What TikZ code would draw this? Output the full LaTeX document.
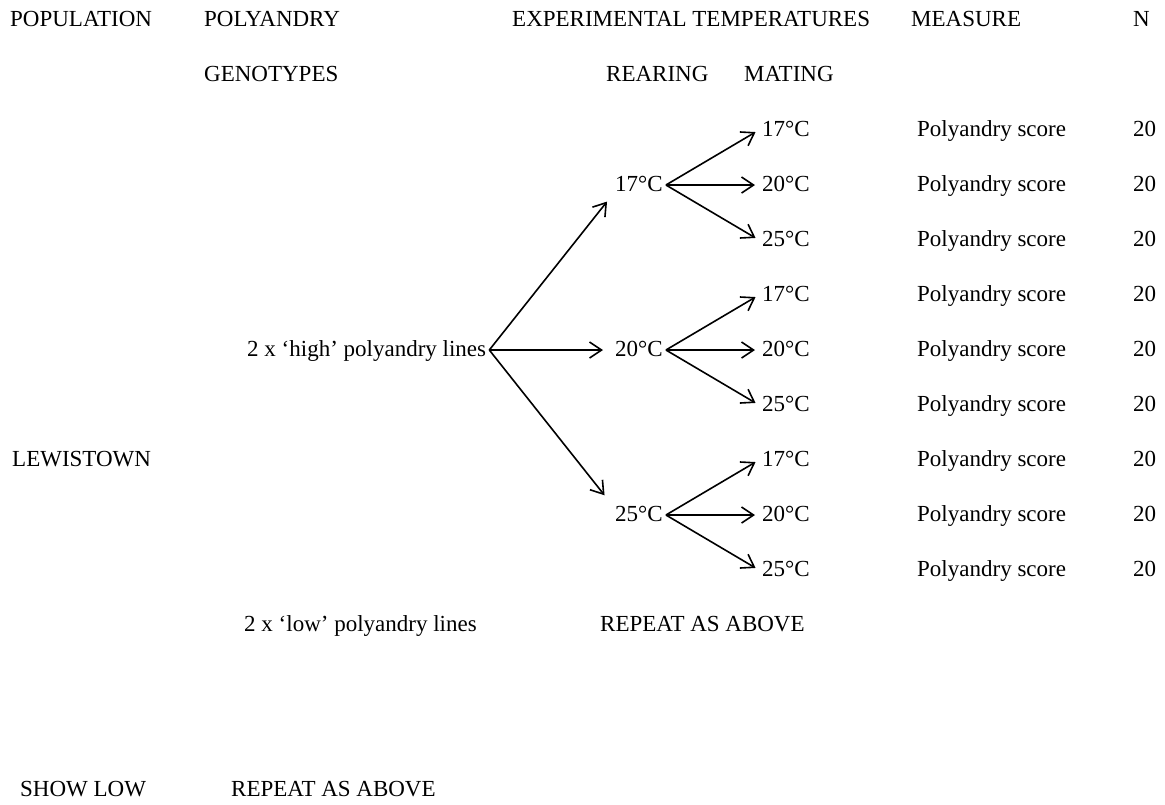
\documentclass[tikz,border=0pt]{standalone}
\usepackage{fontspec}
\setmainfont{Liberation Serif}
\usetikzlibrary{positioning, arrows.meta}

\begin{document}
\begin{tikzpicture}[x=1pt, y=1pt]
    % Define styles
    \tikzset{
        every node/.style={font=\fontsize{23}{27}\selectfont},
        txt/.style={anchor=west, inner sep=3pt, text height=2.9ex, text depth=0.2ex},
        arrow/.style={-{Straight Barb[length=12pt, width=16pt]}, line width=1.6pt}
    }
    \useasboundingbox (0,0) rectangle (1165,-804);

    % Column headings
    \node (pop) [txt] at (7,-20) {POPULATION};
    \node (poly) [txt] at (201,-20) {POLYANDRY};
    \node (exp) [txt] at (509,-20) {EXPERIMENTAL TEMPERATURES};
    \node (meas) [txt] at (908,-20) {MEASURE};
    \node (n) [txt] at (1130,-20) {N};
    \node (geno) [txt, below=55pt of poly.west, anchor=west] {GENOTYPES};
    \node (rear) [txt] at (603,-75) {REARING};
    \node (mate) [txt] at (741,-75) {MATING};

    % Population and genotypes
    \node (lew) [txt] at (9,-460) {LEWISTOWN};
    \node (high) [txt] at (244,-350) {2 x ‘high’ polyandry lines};
    \node (low) [txt] at (241,-625) {2 x ‘low’ polyandry lines};
    \node (rep1) [txt] at (597,-625) {REPEAT AS ABOVE};
    \node (show) [txt] at (17,-790) {SHOW LOW};
    \node (rep2) [txt] at (228,-790) {REPEAT AS ABOVE};

    % Rearing and mating temperatures
    \foreach \r/\y/\a/\s in {17/185/south west/8, 20/350/west/9, 25/515/north west/12} {
        \node (R\r) [txt] at (612,-\y) {\r°C};
        \draw [arrow, shorten >=\s pt] (high.east) -- (R\r.\a);
        \foreach \m/\dy in {17/55, 20/0, 25/-55} {
            \node (M\r-\m) [txt] at (759,{-\y+\dy}) {\m°C};
            \node (S\r-\m) [txt] at (914,{-\y+\dy}) {Polyandry score};
            \node (N\r-\m) [txt] at (1130,{-\y+\dy}) {20};
            \draw [arrow, shorten >=4pt] (R\r.east) -- (M\r-\m.west);
        }
    }

\end{tikzpicture}
\end{document}
